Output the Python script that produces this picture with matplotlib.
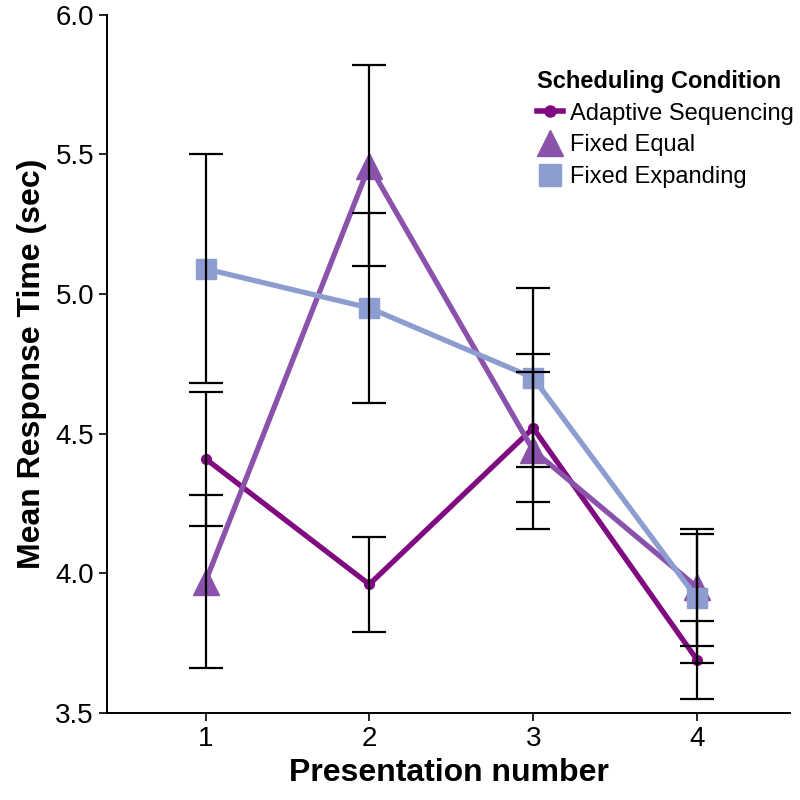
import matplotlib
matplotlib.use("Agg")
import matplotlib.pyplot as plt
from matplotlib.lines import Line2D

# data
presentation = [1, 2, 3, 4]
adaptive = [4.41, 3.96, 4.52, 3.69]
adaptive_err = [0.24, 0.17, 0.265, 0.14]
fixed_equal = [3.97, 5.46, 4.44, 3.95]
fixed_equal_err = [0.31, 0.36, 0.28, 0.21]
fixed_expanding = [5.09, 4.95, 4.70, 3.91]
fixed_expanding_err = [0.41, 0.34, 0.32, 0.23]
series_names = ["Adaptive Sequencing", "Fixed Equal", "Fixed Expanding"]

plt.rcParams['font.family'] = ['Liberation Sans', 'DejaVu Sans']

c_adapt = '#800a80'
c_equal = '#8a52ab'
c_expand = '#8e9dd0'

fig = plt.figure(figsize=(8, 8), dpi=100)
ax = fig.add_axes([0.134, 0.109, 0.854, 0.8725])

series = [
    (adaptive, adaptive_err, c_adapt, 'o', 7),
    (fixed_equal, fixed_equal_err, c_equal, '^', 19),
    (fixed_expanding, fixed_expanding_err, c_expand, 's', 14),
]

for vals, err, col, mk, ms in series:
    ax.plot(presentation, vals, color=col, lw=3.8, marker=mk, ms=ms,
            mec=col, mfc=col, zorder=2)

for vals, err, col, mk, ms in series:
    ax.errorbar(presentation, vals, yerr=err, fmt='none', ecolor='black',
                elinewidth=1.6, capsize=12, capthick=1.6, zorder=3)

ax.set_xlim(0.40, 4.57)
ax.set_ylim(3.5, 6.0)
ax.set_xticks(presentation)
ax.set_yticks([3.5, 4.0, 4.5, 5.0, 5.5, 6.0])
ax.set_yticklabels(['3.5', '4.0', '4.5', '5.0', '5.5', '6.0'])
ax.tick_params(labelsize=20, length=6, width=1.2, colors='black')
for s in ['top', 'right']:
    ax.spines[s].set_visible(False)
for s in ['left', 'bottom']:
    ax.spines[s].set_linewidth(1.4)

lab_font = dict(family=['Liberation Sans Narrow', 'Liberation Sans', 'DejaVu Sans'],
                weight='bold', size=23)
ax.set_xlabel('Presentation number', labelpad=4, **lab_font)
ax.set_ylabel('Mean Response Time (sec)', labelpad=6, **lab_font)

handles = [
    Line2D([], [], color=c_adapt, lw=4, marker='o', ms=8),
    Line2D([], [], color=c_equal, lw=0, marker='^', ms=19),
    Line2D([], [], color=c_expand, lw=0, marker='s', ms=16),
]
leg = ax.legend(handles, series_names, loc='upper left',
                bbox_to_anchor=(0.615, 0.935), frameon=False, fontsize=17,
                title='Scheduling Condition', handlelength=1.1,
                handletextpad=0.3, labelspacing=0.42, borderaxespad=0)
leg.get_title().set_fontweight('bold')
leg.get_title().set_fontsize(17)
leg._legend_box.align = 'left'

fig.savefig('out.png', dpi=100)
